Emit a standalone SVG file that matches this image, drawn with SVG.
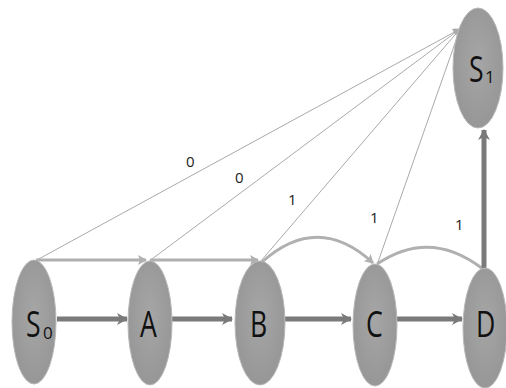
<svg xmlns="http://www.w3.org/2000/svg" width="506" height="388" viewBox="0 0 506 388">
<defs>
<radialGradient id="g" cx="0.5" cy="0.45" r="0.6">
<stop offset="0" stop-color="#a6a6a6"/>
<stop offset="1" stop-color="#959595"/>
</radialGradient>
<marker id="thick" markerUnits="userSpaceOnUse" markerWidth="12" markerHeight="12" refX="10" refY="6" orient="auto">
<path d="M0,0 L11,6 L0,12 L3,6 Z" fill="#7a7a7a"/>
</marker>
<marker id="light" markerUnits="userSpaceOnUse" markerWidth="10" markerHeight="10" refX="8" refY="5" orient="auto">
<path d="M0,0 L9,5 L0,10 L2,5 Z" fill="#b0b0b0"/>
</marker>
<marker id="thin" markerUnits="userSpaceOnUse" markerWidth="8" markerHeight="8" refX="7" refY="4" orient="auto">
<path d="M0,0 L8,4 L0,8 Z" fill="#aaaaaa"/>
</marker>
</defs>
<style>
.node ellipse{fill:url(#g);stroke:#b8b8b8;stroke-width:1}
.lbl{font-family:"Open Sans","Liberation Sans",sans-serif;font-size:37px;fill:#111}
.sub{font-family:"Open Sans","Liberation Sans",sans-serif;font-size:17px;fill:#111}
.el{font-family:"Open Sans","Liberation Sans",sans-serif;font-size:15px;fill:#222}
.thick{stroke:#7a7a7a;stroke-width:5;fill:none}
.light{stroke:#b0b0b0;stroke-width:3;fill:none}
.thin{stroke:#aaaaaa;stroke-width:1;fill:none}
</style>
<rect width="506" height="388" fill="#ffffff"/>
<g id="connectors">
<line class="thin" x1="35" y1="261" x2="460" y2="29" marker-end="url(#thin)"/>
<line class="thin" x1="148" y1="262" x2="460" y2="29"/>
<line class="thin" x1="260" y1="262" x2="460" y2="29"/>
<line class="thin" x1="378" y1="262" x2="460" y2="29"/>
<path class="light" d="M36,260 L146,260" marker-end="url(#light)"/>
<path class="light" d="M150,260 L258,260" marker-end="url(#light)"/>
<path class="light" d="M262,262 Q318,212 373,263" marker-end="url(#light)"/>
<path class="light" d="M377,264 Q430,228 483,269"/>
<line class="thick" x1="57" y1="319" x2="127" y2="319" marker-end="url(#thick)"/>
<line class="thick" x1="172" y1="319" x2="232" y2="319" marker-end="url(#thick)"/>
<line class="thick" x1="285" y1="319" x2="351" y2="319" marker-end="url(#thick)"/>
<line class="thick" x1="397" y1="319" x2="462" y2="319" marker-end="url(#thick)"/>
<line class="thick" x1="484" y1="268" x2="484" y2="130" marker-end="url(#thick)"/>
<text class="el" x="186" y="167">0</text>
<text class="el" x="235" y="183">0</text>
<text class="el" x="288" y="205">1</text>
<text class="el" x="370" y="223">1</text>
<text class="el" x="455" y="230">1</text>
</g>
<g id="S0" class="node"><ellipse cx="34" cy="322" rx="22" ry="62"/><text class="lbl" transform="translate(26,337) scale(0.72,1)">S</text><text class="sub" x="43" y="339">0</text></g>
<g id="A" class="node"><ellipse cx="150" cy="323" rx="22" ry="62"/><text class="lbl" transform="translate(140,337) scale(0.72,1)">A</text></g>
<g id="B" class="node"><ellipse cx="260" cy="323" rx="25" ry="62"/><text class="lbl" transform="translate(250,337) scale(0.72,1)">B</text></g>
<g id="C" class="node"><ellipse cx="375" cy="325" rx="22" ry="61"/><text class="lbl" transform="translate(366,337) scale(0.72,1)">C</text></g>
<g id="D" class="node"><ellipse cx="485" cy="328" rx="22" ry="60"/><text class="lbl" transform="translate(476,337) scale(0.72,1)">D</text></g>
<g id="S1" class="node"><ellipse cx="478" cy="68" rx="25" ry="60"/><text class="lbl" transform="translate(469,82) scale(0.72,1)">S</text><text class="sub" x="485" y="83">1</text></g>
</svg>
